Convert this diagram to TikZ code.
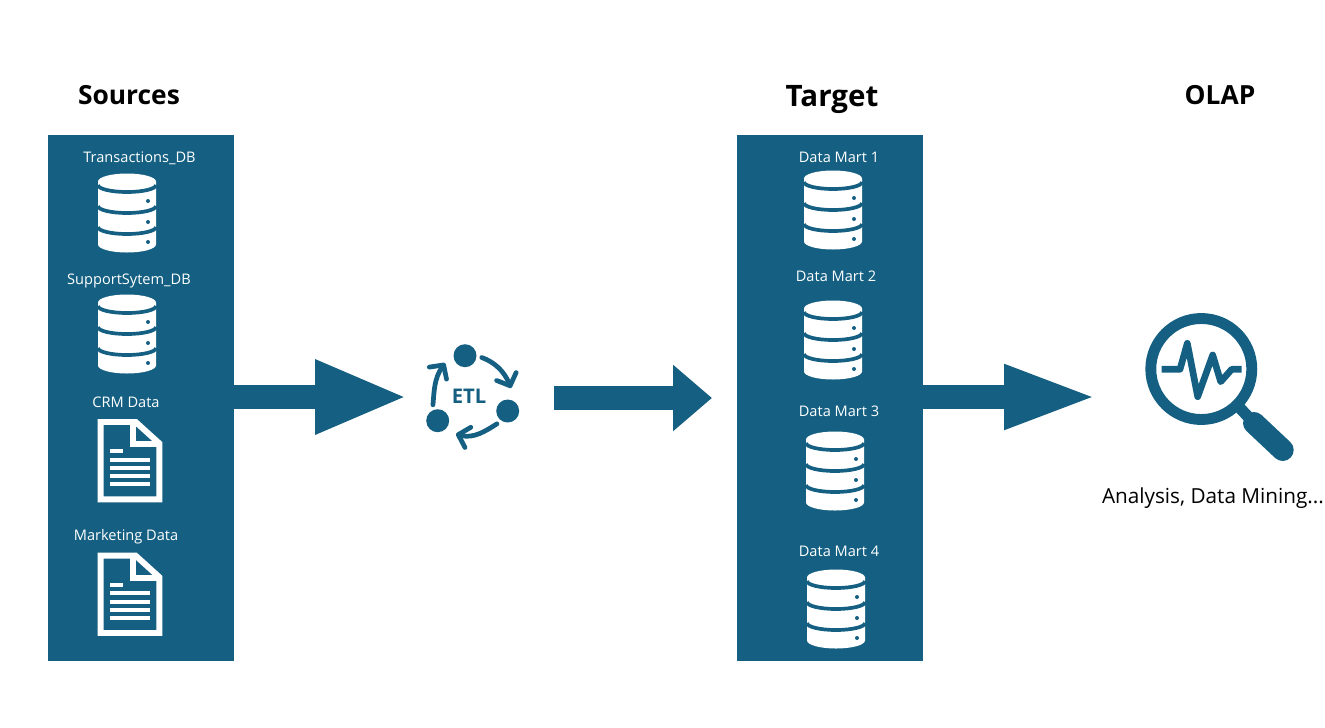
\documentclass[tikz,border=0pt]{standalone}
\usepackage{fontspec}
\setmainfont{Open Sans}
\usetikzlibrary{arrows.meta}
\definecolor{etlblue}{HTML}{156082}
\tikzset{
  panel/.style={fill=etlblue,minimum width=3.72cm,minimum height=10.52cm,inner sep=0pt},
  heading/.style={font=\bfseries\fontsize{15}{17}\selectfont,inner sep=0pt,anchor=base},
  itemlabel/.style={text=white,font=\fontsize{8.3}{10}\selectfont,inner sep=0pt,anchor=base},
  bigarrow/.style 2 args={etlblue,line width=13.6pt,-{Triangle[length=#1,width=#2]}},
  etldot/.style={circle,fill=etlblue,minimum size=0.46cm,inner sep=0pt},
  etlcycle/.style={etlblue,line width=2.7pt,line cap=round,shorten <=3pt,
    -{Straight Barb[length=0.2cm,width=0.42cm,line width=2.7pt,round]}},
  dbicon/.pic={
    \fill[white] (-29,-31.5) arc (180:360:29 and 8) -- (29,31.5) arc (0:180:29 and 8) -- cycle;
    \draw[etlblue,line width=2.1pt] (-29,-28) arc (180:0:29 and 7);
    \draw[etlblue,line width=2.1pt] (-29,-7) arc (180:0:29 and 7);
    \draw[etlblue,line width=2.1pt] (-29,14) arc (180:0:29 and 7);
    \fill[etlblue] (21,-12) circle (2);
    \fill[etlblue] (21,9) circle (2);
    \fill[etlblue] (21,29) circle (2);
  },
  docicon/.pic={
    \draw[white,line width=3.4pt,miter limit=4] (3,3) -- (38,3) -- (61.7,24.5) -- (61.7,80.3) -- (3,80.3) -- cycle;
    \draw[white,line width=3.4pt] (35.5,3) -- (35.5,25) -- (61.7,25);
    \draw[white,line width=2.2pt] (12.3,32) -- (25.7,32);
    \foreach \liney in {40.7,49,57,65.3}
      \draw[white,line width=2.2pt] (12.3,\liney) -- (52.3,\liney);
  }
}
\begin{document}
\begin{tikzpicture}[x=0.02cm,y=-0.02cm]
\useasboundingbox (0,0) rectangle (1325,727);

\node[panel] (sources) at (141,398) {};
\node[panel] (target) at (830,398) {};

\coordinate (etlin) at (408,397);
\coordinate (etlout) at (554,398);
\coordinate (targetin) at (712,398);
\coordinate (olapin) at (1099,397);
\draw[bigarrow={1.86cm}{1.36cm}] (sources.center |- etlin) -- (etlin);
\draw[bigarrow={0.78cm}{1.28cm}] (etlout) -- (targetin);
\draw[bigarrow={1.9cm}{1.16cm}] (target.center |- olapin) -- (olapin);

\node[heading] (sourceshead) at (129,104) {Sources};
\node[heading,font=\bfseries\fontsize{16.8}{20}\selectfont] (targethead) at (832,106) {Target};
\node[heading] (olaphead) at (1220,104) {OLAP};

\node[itemlabel] (lbltrans) at (139.5,162) {Transactions\_DB};
\node[itemlabel] (lblsupport) at (129,284) {SupportSytem\_DB};
\node[itemlabel] (lblcrm) at (126,407) {CRM Data};
\node[itemlabel] (lblmarketing) at (126,540) {Marketing Data};
\node[itemlabel] (lblmart1) at (839,162) {Data Mart 1};
\node[itemlabel] (lblmart2) at (836,281) {Data Mart 2};
\node[itemlabel] (lblmart3) at (839,416) {Data Mart 3};
\node[itemlabel] (lblmart4) at (839,556) {Data Mart 4};

\pic (dbtrans) at (127,213) {dbicon};
\pic (dbsupport) at (127,334) {dbicon};
\pic (doccrm) at (97.7,419) {docicon};
\pic (docmarketing) at (97.7,552.7) {docicon};
\pic (dbmart1) at (833,210) {dbicon};
\pic (dbmart2) at (833,340) {dbicon};
\pic (dbmart3) at (835,471) {dbicon};
\pic (dbmart4) at (836,609) {dbicon};

\node[etldot] (etltop) at (465,355.7) {};
\node[etldot] (etlright) at (507.7,411) {};
\node[etldot] (etlleft) at (437.7,420.7) {};
\node[text=etlblue,font=\bfseries\fontsize{11.5}{13}\selectfont,inner sep=0pt] (etl) at (469,396) {ETL};
\coordinate (headright) at (511,388);
\coordinate (headleft) at (456,434);
\coordinate (headtop) at (445,363);
\draw[etlcycle] (etltop.0) to[out=-20,in=112] (headright);
\draw[etlcycle] (etlright.-122) to[out=-148,in=-16] (headleft);
\draw[etlcycle] (etlleft.116) to[out=85,in=-125] (headtop);

\draw[etlblue,line width=6.2pt] (1201.3,369) circle (50.5);
\draw[etlblue,line width=6.5pt] (1238,406) -- (1254,423);
\draw[etlblue,line width=12.5pt,line cap=round] (1254,423) -- (1282.7,450);
\draw[etlblue,line width=3.8pt,line join=round] (1161.7,369.3) -- (1180,369.3) -- (1187.3,343.3) -- (1197.7,396.7) -- (1212.7,355) -- (1220.7,381.7) -- (1231.7,369.3) -- (1241.7,369.3);

\node[inner sep=0pt,anchor=base,font=\fontsize{11.8}{14}\selectfont] (olapnote) at (1213,503) {Analysis, Data Mining...};
\end{tikzpicture}
\end{document}
